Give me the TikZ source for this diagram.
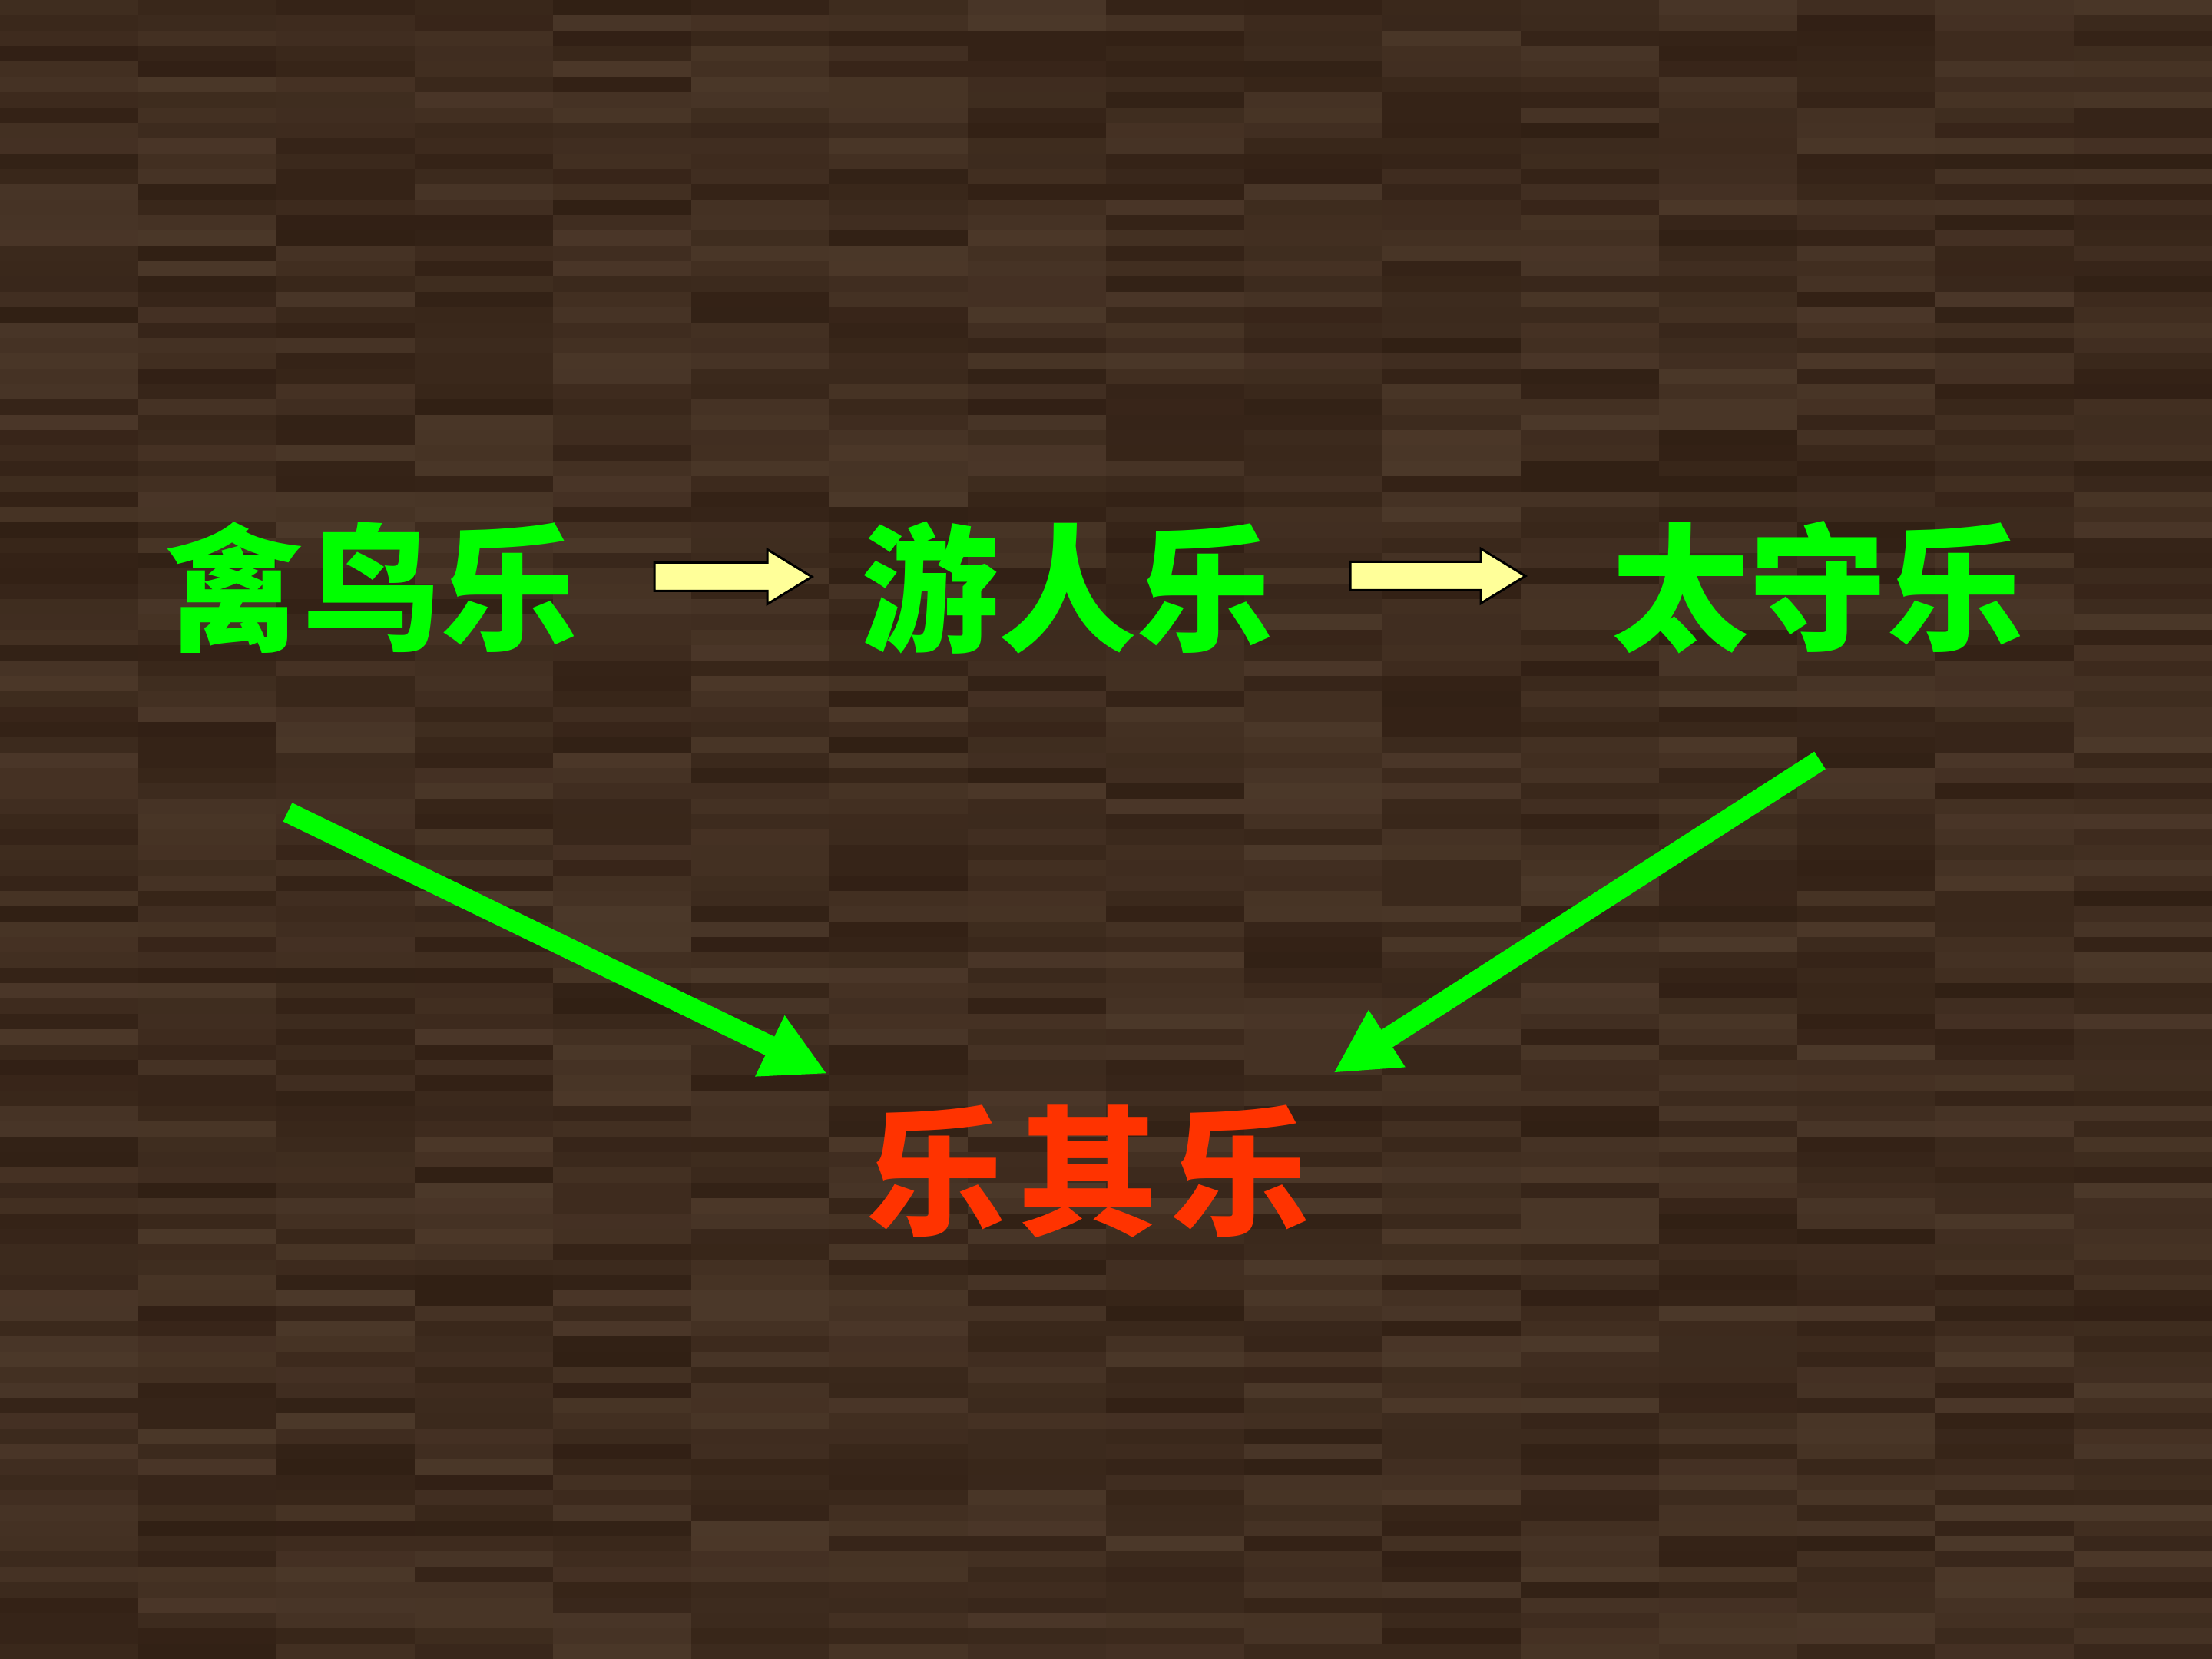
\documentclass[tikz,border=0pt]{standalone}
\usepackage{fontspec}
\usepackage{xcolor}
\newfontfamily\cjk{Noto Sans CJK SC}
\usetikzlibrary{shapes.arrows,arrows.meta}

\definecolor{woodbrown}{HTML}{3D2A1E}
\definecolor{wooddark}{HTML}{2C1B10}
\definecolor{woodlight}{HTML}{5C4736}
\definecolor{brightgreen}{HTML}{00FF00}
\definecolor{redorange}{HTML}{FF3300}
\definecolor{paleyellow}{HTML}{FFFF99}

\tikzset{
  greentext/.style={text=brightgreen, inner sep=0pt, font=\cjk\bfseries\fontsize{51pt}{51pt}\selectfont},
  redtext/.style={text=redorange, inner sep=0pt, font=\cjk\bfseries\fontsize{52pt}{52pt}\selectfont},
  yellowarrow/.style={single arrow, draw=black, line width=0.03cm, fill=paleyellow,
    inner xsep=0pt, inner ysep=0.17cm, single arrow head extend=0.17cm, single arrow tip angle=63},
  greenarrow/.style={draw=brightgreen, line width=0.27cm, -{Triangle[length=0.83cm,width=0.82cm]}}
}

\begin{document}
\begin{tikzpicture}
        % wood background
        \fill[woodbrown] (0,0) rectangle (28.8,21.6);
        \pgfmathsetseed{11}
        \foreach \row in {0,...,107}{
            \foreach \col in {0,...,15}{
                \pgfmathsetmacro\mix{int(35+55*rnd)}
                \fill[wooddark!\mix!woodlight] ({\col*1.8},{\row*0.2}) rectangle +(1.8,0.2);
            }
        }
        \useasboundingbox (0,0) rectangle (28.8,21.6);

        % the three joys
        \node[greentext] (qinniao) at (4.84,13.95) {禽鸟乐};
        \node[greentext] (youren) at (13.90,13.95) {游人乐};
        \node[greentext] (taishou) at (23.67,13.95) {太守乐};
        \node[redtext] (leqile) at (14.17,6.35) {乐\hspace{0.15cm}其\hspace{0.15cm}乐};

        \node[yellowarrow, minimum height=2.05cm] (arrowa) at (9.395,14.09) {};
        \node[yellowarrow, minimum height=2.28cm] (arrowb) at (18.57,14.10) {};

        \coordinate (qinfoot) at (3.745,11.025);
        \coordinate (leleft) at (10.77,7.62);
        \coordinate (taifoot) at (23.695,11.70);
        \coordinate (leright) at (17.36,7.63);
        \draw[greenarrow] (qinfoot) -- (leleft);
        \draw[greenarrow] (taifoot) -- (leright);
    \end{tikzpicture}
\end{document}
